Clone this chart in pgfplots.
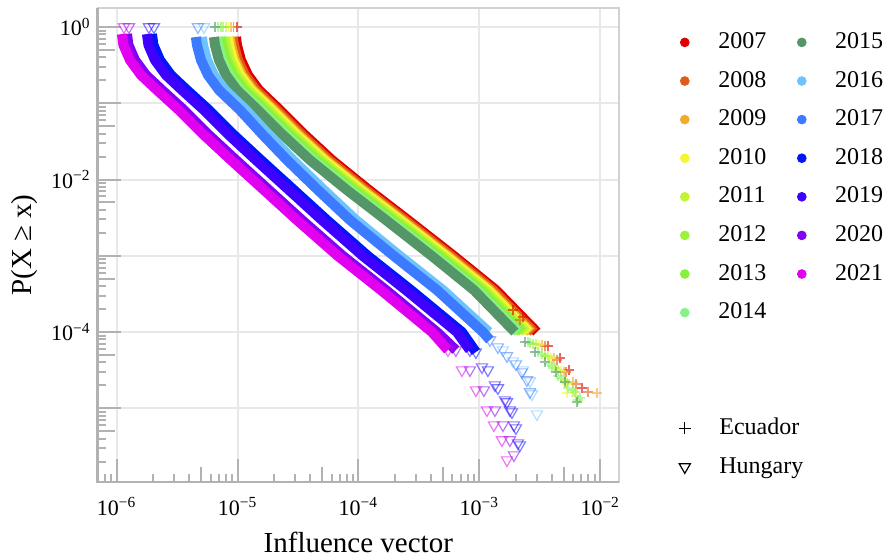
\documentclass[border=0pt]{standalone}
\usepackage{fontspec}
\setmainfont{Liberation Serif}
\usepackage{pgfplots}
\pgfplotsset{compat=1.18}

\definecolor{c2007}{RGB}{222,0,0}
\definecolor{c2008}{RGB}{224,92,24}
\definecolor{c2009}{RGB}{240,172,44}
\definecolor{c2010}{RGB}{245,245,50}
\definecolor{c2011}{RGB}{192,245,52}
\definecolor{c2012}{RGB}{155,242,55}
\definecolor{c2013}{RGB}{135,242,62}
\definecolor{c2014}{RGB}{135,242,135}
\definecolor{c2015}{RGB}{85,150,105}
\definecolor{c2016}{RGB}{110,195,255}
\definecolor{c2017}{RGB}{60,122,255}
\definecolor{c2018}{RGB}{0,22,250}
\definecolor{c2019}{RGB}{62,0,255}
\definecolor{c2020}{RGB}{132,0,240}
\definecolor{c2021}{RGB}{226,0,240}

\pgfplotsset{
  band/.style={line width=5pt, line cap=butt, line join=round, no markers, forget plot},
  hmark/.style={only marks, mark=triangle, mark size=3.2pt, mark options={rotate=180, opacity=0.55, line width=0.6pt}, forget plot},
  emark/.style={only marks, mark=+, mark size=2.7pt, mark options={opacity=0.6, line width=0.7pt}, forget plot},
  yeardot/.style={only marks, mark=*, mark size=2.2pt, #1},
}

\begin{document}
\begin{tikzpicture}
\begin{axis}[
  name=ax,
  xmode=log, ymode=log,
  scale only axis,
  width=260.65pt, height=237pt,
  xmin=6.97e-7, xmax=1.43e-2,
  ymin=1.08e-6, ymax=1.775,
  xtick={1e-6,1e-5,1e-4,1e-3,1e-2},
  xticklabels={10\textsuperscript{−6},10\textsuperscript{−5},10\textsuperscript{−4},10\textsuperscript{−3},10\textsuperscript{−2}},
  ytick={1e-5,1e-4,1e-3,1e-2,1e-1,1},
  yticklabels={,10\textsuperscript{−4},,10\textsuperscript{−2},,10\textsuperscript{0}},
  minor xtick={8e-7,9e-7,2e-6,3e-6,4e-6,6e-6,7e-6,8e-6,9e-6,2e-5,3e-5,4e-5,6e-5,7e-5,8e-5,9e-5,2e-4,3e-4,4e-4,6e-4,7e-4,8e-4,9e-4,2e-3,3e-3,4e-3,6e-3,7e-3,8e-3,9e-3},
  minor ytick={2e-6,3e-6,4e-6,6e-6,7e-6,8e-6,9e-6,2e-5,3e-5,4e-5,6e-5,7e-5,8e-5,9e-5,2e-4,3e-4,4e-4,6e-4,7e-4,8e-4,9e-4,2e-3,3e-3,4e-3,6e-3,7e-3,8e-3,9e-3,2e-2,3e-2,4e-2,6e-2,7e-2,8e-2,9e-2,0.2,0.3,0.4,0.6,0.7,0.8,0.9},
  extra x ticks={5e-6,5e-5,5e-4,5e-3},
  extra x tick labels={},
  extra x tick style={grid=none, major tick length=7.5pt},
  extra y ticks={5e-6,5e-5,5e-4,5e-3,5e-2,0.5},
  extra y tick labels={},
  extra y tick style={grid=none, major tick length=8.5pt},
  tick align=inside,
  tick pos=left,
  major tick length=11.5pt,
  minor tick length=4pt,
  tick style={draw=gray!60, line width=1pt},
  grid=major,
  major grid style={draw=gray!18, line width=1pt},
  axis line style={draw=gray!35, line width=0.8pt},
  tick label style={font=\fontsize{11}{13}\selectfont},
  xticklabel style={yshift=-4pt},
  xlabel={Influence vector},
  ylabel={P(X ≥ x)},
  label style={font=\fontsize{14.5}{17}\selectfont},
  xlabel style={yshift=-1.5pt},
  legend columns=2,
  legend cell align=left,
  legend image code/.code={\draw[#1] plot coordinates {(0pt,0pt)}; \path (-4pt,0pt) (16.5pt,0pt);},
  legend style={at={(1.109,0.9515)}, anchor=north west, draw=none, fill=none, inner sep=0pt,
    font=\fontsize{12}{14}\selectfont,
    nodes={inner sep=0pt, text height=8.5pt, text depth=2.5pt},
    row sep=8.3pt, column sep=0pt,
    /tikz/every even column/.append style={column sep=13.5pt}},
]

% ---- Ecuador ----
\addplot[band, c2007] coordinates {(9.700e-6,0.7394) (9.887e-6,0.581) (1.0669e-5,0.3693) (1.2189e-5,0.2346) (1.5031e-5,0.1492) (2.243e-5,0.08153) (3.611e-5,0.03834) (6.039e-5,0.01802) (1.2213e-4,0.007284) (2.568e-4,0.002943) (6.165e-4,0.000993) (1.3717e-3,0.0003554) (2.995e-3,0.0001)};
\addplot[emark, c2007] coordinates {(9.9e-6,1) (1.900e-3,1.943e-4) (2.299e-3,1.573e-4) (3.700e-3,6.553e-5) (4.651e-3,4.560e-5) (5.520e-3,3.174e-5) (7.071e-3,1.843e-5)};

\addplot[band, c2008] coordinates {(9.162e-6,0.7394) (9.339e-6,0.581) (1.0077e-5,0.3693) (1.1513e-5,0.2346) (1.4197e-5,0.1492) (2.118e-5,0.08153) (3.411e-5,0.03834) (5.704e-5,0.01802) (1.1536e-4,0.007284) (2.426e-4,0.002943) (5.823e-4,0.000993) (1.2957e-3,0.0003554) (2.829e-3,0.0001)};
\addplot[emark, c2008] coordinates {(9.3e-6,1) (2.171e-3,1.437e-4) (3.495e-3,6.553e-5) (4.392e-3,4.293e-5) (5.213e-3,2.988e-5) (6.306e-3,2.080e-5) (7.927e-3,1.633e-5)};

\addplot[band, c2009] coordinates {(8.654e-6,0.7394) (8.821e-6,0.581) (9.518e-6,0.3693) (1.0874e-5,0.2346) (1.3409e-5,0.1492) (2.001e-5,0.08153) (3.221e-5,0.03834) (5.388e-5,0.01802) (1.0896e-4,0.007284) (2.291e-4,0.002943) (5.500e-4,0.000993) (1.2238e-3,0.0003554) (2.672e-3,0.0001)};
\addplot[emark, c2009] coordinates {(8.8e-6,1) (3.301e-3,6.753e-5) (4.148e-3,4.560e-5) (5.019e-3,2.988e-5) (5.957e-3,2.210e-5) (9.408e-3,1.585e-5)};

\addplot[band, c2010] coordinates {(8.329e-6,0.7394) (8.489e-6,0.581) (9.160e-6,0.3693) (1.0465e-5,0.2346) (1.2905e-5,0.1492) (1.925e-5,0.08153) (3.100e-5,0.03834) (5.185e-5,0.01802) (1.0486e-4,0.007284) (2.205e-4,0.002943) (5.293e-4,0.000993) (1.1777e-3,0.0003554) (2.572e-3,0.0001)};
\addplot[emark, c2010] coordinates {(8.4e-6,1) (3.118e-3,6.753e-5) (3.918e-3,4.560e-5) (4.741e-3,3.080e-5) (5.314e-3,2.080e-5) (5.314e-3,1.585e-5)};

\addplot[band, c2011] coordinates {(7.867e-6,0.7394) (8.018e-6,0.581) (8.652e-6,0.3693) (9.885e-6,0.2346) (1.2189e-5,0.1492) (1.819e-5,0.08153) (2.928e-5,0.03834) (4.898e-5,0.01802) (9.905e-5,0.007284) (2.083e-4,0.002943) (5.000e-4,0.000993) (1.1124e-3,0.0003554) (2.429e-3,0.0001)};
\addplot[emark, c2011] coordinates {(8.0e-6,1) (2.944e-3,6.961e-5) (3.700e-3,4.843e-5) (4.477e-3,3.174e-5) (5.314e-3,2.143e-5) (6.306e-3,1.448e-5)};

\addplot[band, c2012] coordinates {(7.431e-6,0.7394) (7.574e-6,0.581) (8.173e-6,0.3693) (9.337e-6,0.2346) (1.1514e-5,0.1492) (1.718e-5,0.08153) (2.766e-5,0.03834) (4.626e-5,0.01802) (9.356e-5,0.007284) (1.967e-4,0.002943) (4.723e-4,0.000993) (1.0508e-3,0.0003554) (2.294e-3,0.0001)};
\addplot[emark, c2012] coordinates {(7.6e-6,1) (2.782e-3,6.961e-5) (3.495e-3,4.843e-5) (4.227e-3,3.372e-5) (5.116e-3,2.347e-5) (6.188e-3,1.633e-5)};

\addplot[band, c2013] coordinates {(7.153e-6,0.7394) (7.291e-6,0.581) (7.867e-6,0.3693) (8.988e-6,0.2346) (1.1083e-5,0.1492) (1.654e-5,0.08153) (2.663e-5,0.03834) (4.453e-5,0.01802) (9.006e-5,0.007284) (1.894e-4,0.002943) (4.546e-4,0.000993) (1.0115e-3,0.0003554) (2.209e-3,0.0001)};
\addplot[emark, c2013] coordinates {(7.3e-6,1) (2.627e-3,7.173e-5) (3.301e-3,5.146e-5) (3.993e-3,3.581e-5) (4.741e-3,2.492e-5) (5.957e-3,1.735e-5) (6.552e-3,1.283e-5)};

\addplot[band, c2014] coordinates {(6.755e-6,0.7394) (6.885e-6,0.581) (7.430e-6,0.3693) (8.488e-6,0.2346) (1.0467e-5,0.1492) (1.562e-5,0.08153) (2.515e-5,0.03834) (4.206e-5,0.01802) (8.505e-5,0.007284) (1.788e-4,0.002943) (4.293e-4,0.000993) (9.553e-4,0.0003554) (2.086e-3,0.0001)};
\addplot[emark, c2014] coordinates {(6.9e-6,1) (2.528e-3,7.394e-5) (3.059e-3,5.467e-5) (3.771e-3,3.805e-5) (4.477e-3,2.648e-5) (5.416e-3,1.843e-5) (6.806e-3,1.363e-5)};

\addplot[band, c2015] coordinates {(6.380e-6,0.7394) (6.503e-6,0.581) (7.017e-6,0.3693) (8.017e-6,0.2346) (9.886e-6,0.1492) (1.475e-5,0.08153) (2.375e-5,0.03834) (3.972e-5,0.01802) (8.033e-5,0.007284) (1.689e-4,0.002943) (4.055e-4,0.000993) (9.022e-4,0.0003554) (1.970e-3,0.0001)};
\addplot[emark, c2015] coordinates {(6.5e-6,1) (2.388e-3,7.394e-5) (2.888e-3,5.467e-5) (3.495e-3,4.042e-5) (4.309e-3,2.988e-5) (5.116e-3,2.210e-5) (6.428e-3,1.208e-5)};

% ---- Hungary ----
\addplot[band, c2016] coordinates {(5.076e-6,0.7394) (5.175e-6,0.581) (5.584e-6,0.3693) (6.380e-6,0.2346) (7.867e-6,0.1492) (1.174e-5,0.08153) (1.818e-5,0.03834) (2.873e-5,0.01802) (5.184e-5,0.007284) (9.536e-5,0.002943) (2.205e-4,0.000993) (5.000e-4,0.0003554) (1.2007e-3,0.0001)};
\addplot[hmark, c2016] coordinates {(5.274e-6,1) (1.568e-3,5.805e-5) (1.897e-3,4.165e-5) (2.294e-3,3.173e-5) (2.621e-3,2.278e-5) (2.723e-3,1.538e-5) (2.995e-3,8.406e-6)};

\addplot[band, c2017] coordinates {(4.528e-6,0.7394) (4.616e-6,0.581) (4.981e-6,0.3693) (5.691e-6,0.2346) (7.017e-6,0.1492) (1.047e-5,0.08153) (1.622e-5,0.03834) (2.563e-5,0.01802) (4.624e-5,0.007284) (8.506e-5,0.002943) (1.967e-4,0.000993) (4.460e-4,0.0003554) (1.071e-3,0.0001) (1.224e-3,7.854e-5)};
\addplot[hmark, c2017] coordinates {(4.705e-6,1) (1.224e-3,7.854e-5) (1.425e-3,6.357e-5) (1.692e-3,4.845e-5) (2.008e-3,3.804e-5) (2.251e-3,2.988e-5) (2.476e-3,2.347e-5) (2.621e-3,1.634e-5)};

\addplot[band, c2018] coordinates {(1.958e-6,0.809) (2.015e-6,0.581) (2.281e-6,0.3693) (2.813e-6,0.2346) (3.814e-6,0.1492) (5.800e-6,0.08153) (9.338e-6,0.03834) (1.5613e-5,0.01802) (2.929e-5,0.007284) (5.487e-5,0.002943) (1.1987e-4,0.000993) (2.718e-4,0.0003554) (7.180e-4,0.0001) (9.37e-4,5.466e-5)};
\addplot[hmark, c2018] coordinates {(2.034e-6,1) (9.37e-4,5.466e-5) (1.178e-3,3.173e-5) (1.425e-3,1.844e-5) (1.692e-3,1.208e-5) (1.861e-3,8.93e-6) (2.008e-3,5.508e-6) (2.167e-3,3.296e-6)};

\addplot[band, c2019] coordinates {(1.781e-6,0.809) (1.833e-6,0.581) (2.074e-6,0.3693) (2.559e-6,0.2346) (3.469e-6,0.1492) (5.276e-6,0.08153) (8.493e-6,0.03834) (1.420e-5,0.01802) (2.664e-5,0.007284) (4.991e-5,0.002943) (1.0902e-4,0.000993) (2.472e-4,0.0003554) (6.530e-4,0.0001) (8.36e-4,5.805e-5)};
\addplot[hmark, c2019] coordinates {(1.850e-6,1) (8.36e-4,5.805e-5) (1.051e-3,3.475e-5) (1.346e-3,2.018e-5) (1.628e-3,1.283e-5) (1.791e-3,9.484e-6) (1.933e-3,6.03e-6) (2.086e-3,3.502e-6)};

\addplot[band, c2020] coordinates {(1.217e-6,0.809) (1.252e-6,0.581) (1.417e-6,0.3693) (1.748e-6,0.2346) (2.369e-6,0.1492) (3.604e-6,0.08153) (5.801e-6,0.03834) (9.700e-6,0.01802) (1.819e-5,0.007284) (3.409e-5,0.002943) (7.447e-5,0.000993) (1.689e-4,0.0003554) (4.461e-4,0.0001) (6.40e-4,5.805e-5)};
\addplot[hmark, c2020] coordinates {(1.264e-6,1) (6.40e-4,5.805e-5) (8.36e-4,3.173e-5) (1.091e-3,1.735e-5) (1.346e-3,9.484e-6) (1.568e-3,6.03e-6) (1.791e-3,3.835e-6) (1.933e-3,2.437e-6)};

\addplot[band, c2021] coordinates {(1.106e-6,0.809) (1.138e-6,0.581) (1.288e-6,0.3693) (1.589e-6,0.2346) (2.154e-6,0.1492) (3.276e-6,0.08153) (5.274e-6,0.03834) (8.818e-6,0.01802) (1.654e-5,0.007284) (3.099e-5,0.002943) (6.77e-5,0.000993) (1.535e-4,0.0003554) (4.055e-4,0.0001) (5.50e-4,5.805e-5)};
\addplot[hmark, c2021] coordinates {(1.149e-6,1) (5.50e-4,5.805e-5) (7.18e-4,3.173e-5) (9.37e-4,1.735e-5) (1.156e-3,9.484e-6) (1.320e-3,6.03e-6) (1.538e-3,3.835e-6) (1.692e-3,2.096e-6)};

% ---- legend ----
\addlegendimage{yeardot=c2007}\addlegendentry{2007}
\addlegendimage{yeardot=c2015}\addlegendentry{2015}
\addlegendimage{yeardot=c2008}\addlegendentry{2008}
\addlegendimage{yeardot=c2016}\addlegendentry{2016}
\addlegendimage{yeardot=c2009}\addlegendentry{2009}
\addlegendimage{yeardot=c2017}\addlegendentry{2017}
\addlegendimage{yeardot=c2010}\addlegendentry{2010}
\addlegendimage{yeardot=c2018}\addlegendentry{2018}
\addlegendimage{yeardot=c2011}\addlegendentry{2011}
\addlegendimage{yeardot=c2019}\addlegendentry{2019}
\addlegendimage{yeardot=c2012}\addlegendentry{2012}
\addlegendimage{yeardot=c2020}\addlegendentry{2020}
\addlegendimage{yeardot=c2013}\addlegendentry{2013}
\addlegendimage{yeardot=c2021}\addlegendentry{2021}
\addlegendimage{yeardot=c2014}\addlegendentry{2014}
\addlegendimage{empty legend}\addlegendentry{}
\addlegendimage{empty legend}\addlegendentry{}
\addlegendimage{empty legend}\addlegendentry{}
\addlegendimage{empty legend}\addlegendentry{}
\addlegendimage{empty legend}\addlegendentry{}
\addlegendimage{black, only marks, mark=+, mark size=3pt, line width=0.6pt}\addlegendentry{\rlap{Ecuador}}
\addlegendimage{empty legend}\addlegendentry{}
\addlegendimage{black, only marks, mark=triangle, mark size=3.2pt, mark options={rotate=180}, line width=0.6pt}\addlegendentry{\rlap{Hungary}}
\end{axis}
\draw[gray!60, line width=1.2pt] (ax.north west) -- (ax.south west) -- (ax.south east);
\pgfresetboundingbox
\path[use as bounding box] ([xshift=-48.85pt,yshift=-38pt]ax.south west) rectangle ([xshift=132pt,yshift=4pt]ax.north east);
\end{tikzpicture}
\end{document}
